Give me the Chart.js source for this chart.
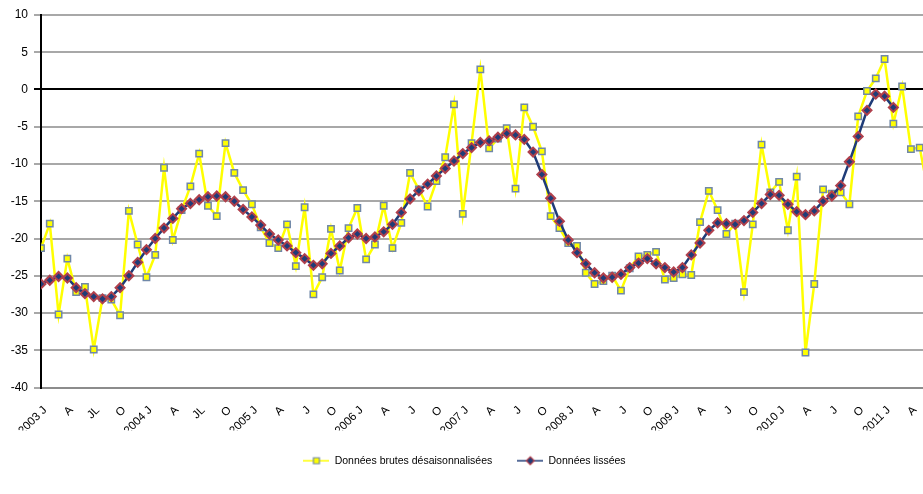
<!DOCTYPE html>
<html>
<head>
<meta charset="utf-8">
<script src="https://cdn.jsdelivr.net/npm/chart.js@4.4.1/dist/chart.umd.min.js"></script>
<style>
  html, body { margin: 0; padding: 0; background: #fff; overflow: hidden; }
  #wrap { width: 923px; height: 494px; overflow: hidden; }
</style>
</head>
<body>
<div id="wrap"><canvas id="graphique" width="935" height="494"></canvas></div>
<script>
// Labels des trimestres (un label tous les 3 mois, de janvier 2003 à avril 2011)
const tickLabels = [
    "2003 J", "A", "JL", "O",
    "2004 J", "A", "JL", "O",
    "2005 J", "A", "J", "O",
    "2006 J", "A", "J", "O",
    "2007 J", "A", "J", "O",
    "2008 J", "A", "J", "O",
    "2009 J", "A", "J", "O",
    "2010 J", "A", "J", "O",
    "2011 J", "A"
];

const seriesNames = ["Données brutes désaisonnalisées", "Données lissées"];

// Données mensuelles brutes désaisonnalisées (depuis janvier 2003)
const brutes = [
    -21.3, -18.0, -30.2, -22.7, -27.2, -26.5, -34.9, -28.0, -28.2, -30.3, -16.3, -20.8,
    -25.2, -22.2, -10.5, -20.2, -16.2, -13.0, -8.6, -15.6, -17.0, -7.2, -11.2, -13.5,
    -15.4, -18.5, -20.6, -21.3, -18.1, -23.7, -15.8, -27.5, -25.2, -18.7, -24.3, -18.6,
    -15.9, -22.8, -20.8, -15.6, -21.3, -17.9, -11.2, -13.4, -15.7, -12.3, -9.1, -2.0,
    -16.7, -7.2, 2.7, -7.9, -6.6, -5.2, -13.3, -2.4, -5.0, -8.3, -17.0, -18.6,
    -20.6, -21.0, -24.6, -26.1, -25.7, -25.0, -27.0, -24.0, -22.4, -22.2, -21.8, -25.5,
    -25.3, -24.8, -24.9, -17.8, -13.6, -16.2, -19.4, -18.0, -27.2, -18.1, -7.4, -13.8,
    -12.4, -18.9, -11.7, -35.3, -26.1, -13.4, -14.0, -13.8, -15.4, -3.6, -0.2, 1.5,
    4.1, -4.6, 0.4, -8.0, -7.8, -14.0
];

// Données lissées (depuis janvier 2003)
const lissees = [
    -26.1, -25.6, -25.1, -25.3, -26.6, -27.4, -27.8, -28.1, -27.8, -26.6, -25.0, -23.2,
    -21.5, -20.0, -18.6, -17.3, -16.0, -15.3, -14.8, -14.4, -14.3, -14.4, -15.0, -16.1,
    -17.1, -18.2, -19.4, -20.2, -21.0, -21.9, -22.7, -23.6, -23.4, -22.0, -21.0, -19.9,
    -19.4, -20.0, -19.8, -19.1, -18.1, -16.5, -14.7, -13.6, -12.7, -11.6, -10.6, -9.6,
    -8.6, -7.8, -7.1, -6.9, -6.4, -5.9, -6.1, -6.7, -8.4, -11.4, -14.6, -17.7,
    -20.2, -21.9, -23.4, -24.6, -25.3, -25.2, -24.8, -23.9, -23.3, -22.7, -23.4, -23.9,
    -24.5, -23.9, -22.2, -20.6, -18.9, -17.9, -18.0, -18.1, -17.6, -16.5, -15.3, -14.1,
    -14.2, -15.4, -16.4, -16.8, -16.3, -15.0, -14.3, -12.9, -9.7, -6.3, -2.8, -0.6,
    -0.9, -2.4
];

const JAUNE = "#ffff00";
const BORD_CARRE = "#7088a8";
const MARINE = "#1f3c78";
const BORD_LOSANGE = "#b0404c";

Chart.defaults.font.family = "'Liberation Sans', Arial, sans-serif";
Chart.defaults.color = "#000";

function versPoints(valeurs) {
    return valeurs.map((v, i) => ({ x: i, y: v }));
}

// petite image pour la légende : trait + marqueur
function iconeLegende(couleurLigne, style, fond, bord) {
    const c = document.createElement("canvas");
    c.width = 26;
    c.height = 12;
    const g = c.getContext("2d");
    g.strokeStyle = couleurLigne;
    g.lineWidth = 1.5;
    g.beginPath();
    g.moveTo(0, 6);
    g.lineTo(26, 6);
    g.stroke();
    g.fillStyle = fond;
    g.strokeStyle = bord;
    g.lineWidth = 1.2;
    g.beginPath();
    if (style === "rect") {
        g.rect(10, 3, 6, 6);
    } else {
        g.moveTo(13, 2); g.lineTo(17, 6); g.lineTo(13, 10); g.lineTo(9, 6); g.closePath();
    }
    g.fill();
    g.stroke();
    return c;
}

const icones = [
    iconeLegende(JAUNE, "rect", JAUNE, BORD_CARRE),
    iconeLegende(MARINE, "rectRot", MARINE, BORD_LOSANGE)
];

const ctx = document.getElementById("graphique").getContext("2d");

new Chart(ctx, {
    type: "line",
    data: {
        datasets: [
            {
                label: seriesNames[0],
                data: versPoints(brutes),
                borderColor: JAUNE,
                borderWidth: 2.5,
                tension: 0,
                pointStyle: "rect",
                pointRadius: 4.5,
                pointBackgroundColor: JAUNE,
                pointBorderColor: BORD_CARRE,
                pointBorderWidth: 1.5,
                order: 1
            },
            {
                label: seriesNames[1],
                data: versPoints(lissees),
                borderColor: MARINE,
                borderWidth: 2.5,
                tension: 0,
                pointStyle: "rectRot",
                pointRadius: 4.5,
                pointBackgroundColor: MARINE,
                pointBorderColor: BORD_LOSANGE,
                pointBorderWidth: 2,
                order: 0
            }
        ]
    },
    options: {
        responsive: false,
        animation: false,
        layout: {
            padding: { top: 15, right: 6, bottom: 18, left: 0 }
        },
        plugins: {
            legend: {
                display: true,
                position: "bottom",
                labels: {
                    font: { size: 10.5 },
                    color: "#000",
                    usePointStyle: true,
                    pointStyleWidth: 26,
                    padding: 25,
                    sort: (a, b) => a.datasetIndex - b.datasetIndex,
                    generateLabels: (chart) => {
                        const items = Chart.defaults.plugins.legend.labels.generateLabels(chart);
                        items.forEach((it) => { it.pointStyle = icones[it.datasetIndex]; });
                        return items;
                    }
                }
            },
            tooltip: { enabled: false }
        },
        scales: {
            x: {
                type: "linear",
                min: 0,
                max: 101,
                grid: { display: false },
                border: { display: true, color: "#8c8c8c", width: 2 },
                afterBuildTicks: (scale) => {
                    scale.ticks = tickLabels.map((_, i) => ({ value: i * 3 }));
                },
                afterFit: (scale) => { scale.height = 43; },
                ticks: {
                    autoSkip: false,
                    maxRotation: 45,
                    minRotation: 45,
                    padding: 8,
                    labelOffset: 4,
                    font: { size: 11.5 },
                    color: "#000",
                    callback: (v) => tickLabels[Math.round(v / 3)] ?? ""
                }
            },
            y: {
                min: -40,
                max: 10,
                afterFit: (scale) => { scale.width = 41; },
                ticks: {
                    stepSize: 5,
                    padding: 6,
                    font: { size: 12 },
                    color: "#000"
                },
                grid: {
                    color: (c) => (c.tick && c.tick.value === 0 ? "#000" : "#a8a8a8"),
                    lineWidth: 2,
                    tickLength: 7
                },
                border: { display: true, color: "#000", width: 2 }
            }
        }
    }
});
</script>
</body>
</html>
